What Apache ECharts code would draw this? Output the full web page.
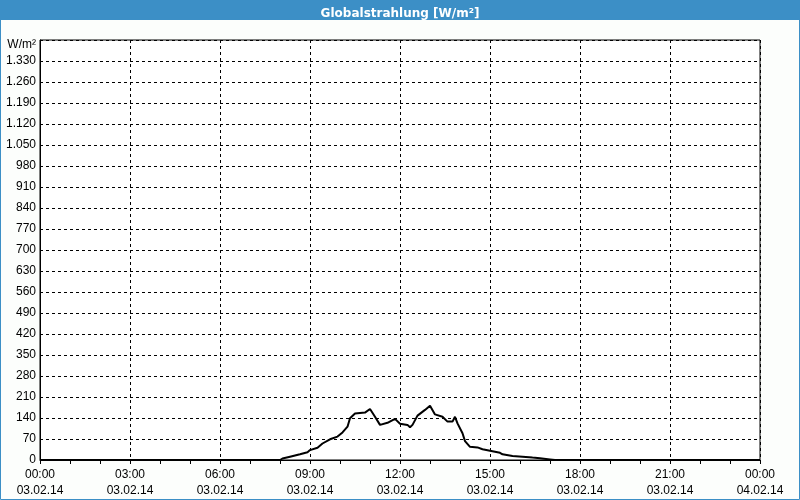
<!DOCTYPE html>
<html>
<head>
<meta charset="utf-8">
<script src="https://cdn.jsdelivr.net/npm/echarts@6/dist/echarts.min.js"></script>
<style>
html,body{margin:0;padding:0;background:#fcfefc;}
#c{width:800px;height:500px;}
</style>
</head>
<body>
<div id="c"></div>
<script>
const titleText = 'Globalstrahlung [W/m²]';
const unitLabel = 'W/m²';
const times = ['00:00','08:00','08:05','08:20','08:40','08:55','09:00','09:15','09:25','09:40','09:55','10:05','10:15','10:20','10:30','10:50','11:00','11:10','11:20','11:35','11:50','12:00','12:15','12:20','12:25','12:35','12:50','13:00','13:10','13:25','13:35','13:45','13:50','13:55','14:05','14:10','14:20','14:35','14:45','15:00','15:20','15:25','15:45','16:05','16:25','16:40','17:00','17:10','24:00'];
const values = [0,0,5,11,19,26,33,41,55,69,78,92,111,139,155,158,170,144,117,124,137,121,117,109,117,148,167,181,152,144,128,128,144,122,89,63,44,42,36,31,24,19,13,11,8,6,2,0,0];
const dateStart = '03.02.14';
const dateEnd = '04.02.14';

function toHours(s){const p=s.split(':');return +p[0]+(+p[1])/60;}
const seriesData = times.map((t,i)=>[toHours(t), values[i]]);

function fmtNum(v){
  const s=String(v);
  return s.length>3 ? s.slice(0,s.length-3)+'.'+s.slice(s.length-3) : s;
}

const chart = echarts.init(document.getElementById('c'), null, {renderer:'canvas'});
const font = 'Liberation Sans, Arial, sans-serif';
chart.setOption({
  animation:false,
  backgroundColor:'#fcfefc',
  graphic:[
    {type:'rect', shape:{x:0,y:0,width:800,height:20}, style:{fill:'#3c8fc6'}, z:-1},
    {type:'rect', shape:{x:0.5,y:0.5,width:799,height:499}, style:{fill:null, stroke:'#3c8fc6', lineWidth:1}, z:-1}
  ],
  title:{
    text:titleText, left:'center', top:3,
    textStyle:{color:'#ffffff', fontWeight:'bold', fontSize:12, fontFamily:'DejaVu Sans, Verdana, sans-serif'}
  },
  grid:{left:40, right:40, top:40, bottom:40, show:true, borderColor:'#000', borderWidth:1, backgroundColor:'#ffffff'},
  xAxis:{
    type:'value', min:0, max:24, interval:3,
    axisLine:{show:true, lineStyle:{color:'#000', width:1}},
    axisTick:{show:true, length:4, lineStyle:{color:'#000'}},
    minorTick:{show:true, splitNumber:3, length:4, lineStyle:{color:'#000'}},
    splitLine:{show:true, lineStyle:{color:'#000', type:[3,3], width:1}},
    axisLabel:{
      color:'#000', fontSize:12, fontFamily:font, lineHeight:16, margin:7,
      formatter:function(v){
        const h = Math.round(v)%24;
        const hh = (h<10?'0':'')+h+':00';
        return hh+'\n'+(v>=24?dateEnd:dateStart);
      }
    }
  },
  yAxis:{
    type:'value', min:0, max:1400, interval:70,
    axisLine:{show:true, lineStyle:{color:'#000'}},
    axisTick:{show:false},
    splitLine:{show:true, lineStyle:{color:'#000', type:[3,3], width:1}},
    axisLabel:{
      color:'#000', fontSize:12, fontFamily:font, margin:4,
      formatter:function(v){ return v>=1400 ? '{u|'+unitLabel+'}' : fmtNum(v); },
      rich:{u:{color:'#000', fontSize:12, fontFamily:font, padding:[10,0,0,0]}}
    }
  },
  series:[{
    type:'line', data:seriesData, showSymbol:false, symbol:'none',
    lineStyle:{color:'#000', width:2}, z:5
  }]
});
</script>
</body>
</html>
